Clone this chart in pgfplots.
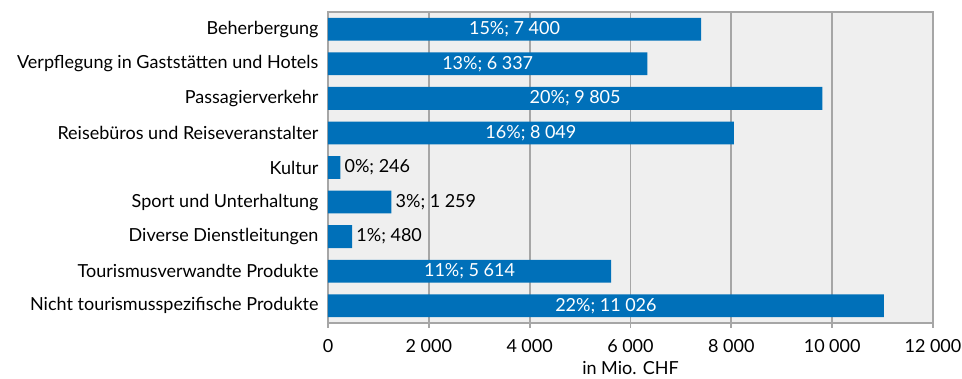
\documentclass[border=0pt]{standalone}
\usepackage{pgfplots}
\pgfplotsset{compat=1.18}
\usepackage{pgfplotstable}
\usepackage{fontspec}
\setmainfont{Lato}

\definecolor{barblue}{HTML}{0070B9}
\definecolor{plotbg}{HTML}{EFEFEF}
\definecolor{gridgray}{HTML}{A6A6A6}

% Tourismusausgaben nach Produkt: Wert in Mio. CHF und Anteil in Prozent
\pgfplotstableread{
y  val    pct
0  7400   15
1  6337   13
2  9805   20
3  8049   16
4  246    0
5  1259   3
6  480    1
7  5614   11
8  11026  22
}\spending

\begin{document}
\begin{tikzpicture}[x=1pt,y=1pt]
\useasboundingbox (-328,-56) rectangle (634,323);
\begin{axis}[
  at={(0,0)}, anchor=south west,
  scale only axis, width=605pt, height=311pt,
  font=\fontsize{18}{21}\selectfont,
  xmin=0, xmax=12000, ymin=-0.5, ymax=8.5,
  y dir=reverse,
  xtick={0,2000,...,12000},
  ytick={0,...,8},
  yticklabels={Beherbergung, Verpflegung in Gaststätten und Hotels, Passagierverkehr, Reisebüros und Reiseveranstalter, Kultur, Sport und Unterhaltung, Diverse Dienstleitungen, Tourismusverwandte Produkte, Nicht tourismusspezifische Produkte},
  /pgf/number format/assume math mode=true,
  /pgf/number format/1000 sep={\hspace{0.25em}},
  scaled x ticks=false,
  xmajorgrids,
  major grid style={draw=gridgray, line width=1.8pt},
  axis line style={draw=gridgray, line width=2pt},
  axis background/.style={fill=plotbg},
  xtick pos=bottom, xtick align=outside,
  major tick length=5pt,
  xtick style={draw=gridgray, line width=1.8pt},
  ytick style={draw=none},
  yticklabel style={xshift=-6pt},
  xticklabel style={yshift=-8pt},
  xlabel={in Mio. CHF},
  xlabel style={yshift=-2pt},
]
% Balken
\addplot[xbar, bar width=0.66, fill=barblue, draw=none]
  table[x=val, y=y] {\spending};
% Beschriftung innerhalb der grossen Balken
\addplot[draw=none, restrict x to domain=2500:12000,
  point meta=explicit,
  visualization depends on={\thisrow{pct} \as \pct},
  nodes near coords={\pgfmathprintnumber[fixed,precision=0]{\pct}\%; \pgfmathprintnumber[fixed,precision=0]{\pgfplotspointmeta}},
  every node near coord/.style={anchor=center, text=white, inner sep=0pt}]
  table[x expr=\thisrow{val}/2, y=y, meta=val] {\spending};
% Beschriftung rechts neben den kleinen Balken
\addplot[draw=none, restrict x to domain=0:2000,
  point meta=explicit,
  visualization depends on={\thisrow{pct} \as \pct},
  nodes near coords={\pgfmathprintnumber[fixed,precision=0]{\pct}\%; \pgfmathprintnumber[fixed,precision=0]{\pgfplotspointmeta}},
  every node near coord/.style={anchor=west, text=black, inner sep=0pt, xshift=4pt}]
  table[x=val, y=y, meta=val] {\spending};
\end{axis}
\end{tikzpicture}
\end{document}
